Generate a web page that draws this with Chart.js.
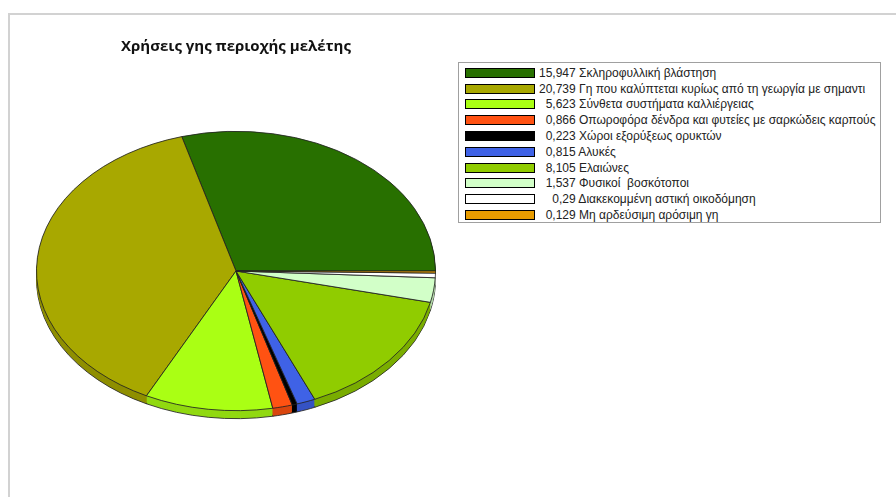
<!DOCTYPE html>
<html>
<head>
<meta charset="utf-8">
<script src="https://cdn.jsdelivr.net/npm/chart.js@4"></script>
<style>
  body { margin: 0; background: #fff; }
  #wrap { position: relative; width: 896px; height: 497px; overflow: hidden; }
  #frame { position: absolute; left: 8px; top: 13px; width: 900px; height: 500px;
           border-top: 2px solid #d2d2d2; border-left: 2px solid #d2d2d2; }
  canvas { position: absolute; left: 0; top: 0; }
  #legend { position: absolute; left: 458px; top: 62px; width: 421px; height: 157px;
            border: 1px solid #a0a0a0; padding-top: 2px; background: #fff;
            font: 12px "Liberation Sans", Arial, sans-serif; color: #222; }
  .row { height: 15.8px; display: flex; align-items: center; white-space: pre; }
  .sw { width: 68px; height: 8px; border: 1px solid #000; margin-left: 6px; margin-right: 4px; flex: none; }
</style>
</head>
<body>
<div id="wrap">
  <div id="frame"></div>
  <canvas id="pie" width="896" height="497"></canvas>
  <div id="legend"></div>
</div>
<script>
// Χρήσεις γης - τιμές όπως διαβάζονται στο υπόμνημα
const categories = [
  'Σκληροφυλλική βλάστηση',
  'Γη που καλύπτεται κυρίως από τη γεωργία με σημαντι',
  'Σύνθετα συστήματα καλλιέργειας',
  'Οπωροφόρα δένδρα και φυτείες με σαρκώδεις καρπούς',
  'Χώροι εξορύξεως ορυκτών',
  'Αλυκές',
  'Ελαιώνες',
  'Φυσικοί  βοσκότοποι',
  'Διακεκομμένη αστική οικοδόμηση',
  'Μη αρδεύσιμη αρόσιμη γη'
];
const values = [15.947, 20.739, 5.623, 0.866, 0.223, 0.815, 8.105, 1.537, 0.29, 0.129];
// κείμενο τιμών με τα κενά όπως στο πρωτότυπο
const valueLabels = ['15,947', '20,739', '  5,623', '  0,866', '  0,223', '  0,815', '  8,105', '  1,537', '    0,29', '  0,129'];
const colors = ['#287000', '#a8a800', '#aaff14', '#ff5212', '#000000', '#3f62e6', '#90cc00', '#d2ffc8', '#ffffff', '#e89c00'];

const squash = 0.70; // λόγος ύψους/πλάτους της έλλειψης
const depth = 8;     // πάχος της "3Δ" πίτας σε px

function darker(hex, f) {
  const n = parseInt(hex.slice(1), 16);
  const r = Math.round(((n >> 16) & 255) * f);
  const g = Math.round(((n >> 8) & 255) * f);
  const b = Math.round((n & 255) * f);
  return 'rgb(' + r + ',' + g + ',' + b + ')';
}
const sideColors = colors.map(c => darker(c, 0.85));

// Plugin: πλάγια πίτα (έλλειψη, αριστερόστροφα) με πάχος
const tilt = {
  id: 'tilt',
  beforeDatasetsDraw(chart) {
    const meta = chart.getDatasetMeta(0);
    const cx = meta.data[0].x, cy = meta.data[0].y;
    const ctx = chart.ctx;
    ctx.save();
    ctx.translate(cx, cy);
    ctx.scale(-1, squash);
    ctx.translate(-cx, -cy);
    for (let d = depth; d > 0; d--) {
      ctx.save();
      ctx.translate(0, d / squash);
      meta.data.forEach((arc, i) => {
        const saved = arc.options;
        arc.options = Object.assign({}, saved, {
          backgroundColor: sideColors[i],
          borderColor: d == depth ? '#222' : sideColors[i],
          borderWidth: d == depth ? 1 : 0
        });
        arc.draw(ctx);
        arc.options = saved;
      });
      ctx.restore();
    }
  },
  afterDatasetsDraw(chart) {
    chart.ctx.restore();
  }
};

new Chart(document.getElementById('pie'), {
  type: 'pie',
  data: {
    labels: categories,
    datasets: [{
      data: values,
      backgroundColor: colors,
      borderColor: '#222',
      borderWidth: 1
    }]
  },
  plugins: [tilt],
  options: {
    responsive: false,
    animation: false,
    events: [],
    rotation: 270,
    layout: { padding: { left: 36, right: 460, top: 0, bottom: 26 } },
    plugins: {
      legend: { display: false },
      tooltip: { enabled: false },
      title: {
        display: true,
        text: 'Χρήσεις γης περιοχής μελέτης',
        color: '#111',
        font: { family: 'Open Sans', size: 15, weight: 'bold', lineHeight: 1.2 },
        padding: { top: 38, bottom: 15 }
      }
    }
  }
});

// Υπόμνημα
const legend = document.getElementById('legend');
categories.forEach((name, i) => {
  const row = document.createElement('div');
  row.className = 'row';
  const sw = document.createElement('span');
  sw.className = 'sw';
  sw.style.background = colors[i];
  row.appendChild(sw);
  row.appendChild(document.createTextNode(valueLabels[i] + ' ' + name));
  legend.appendChild(row);
});
</script>
</body>
</html>
